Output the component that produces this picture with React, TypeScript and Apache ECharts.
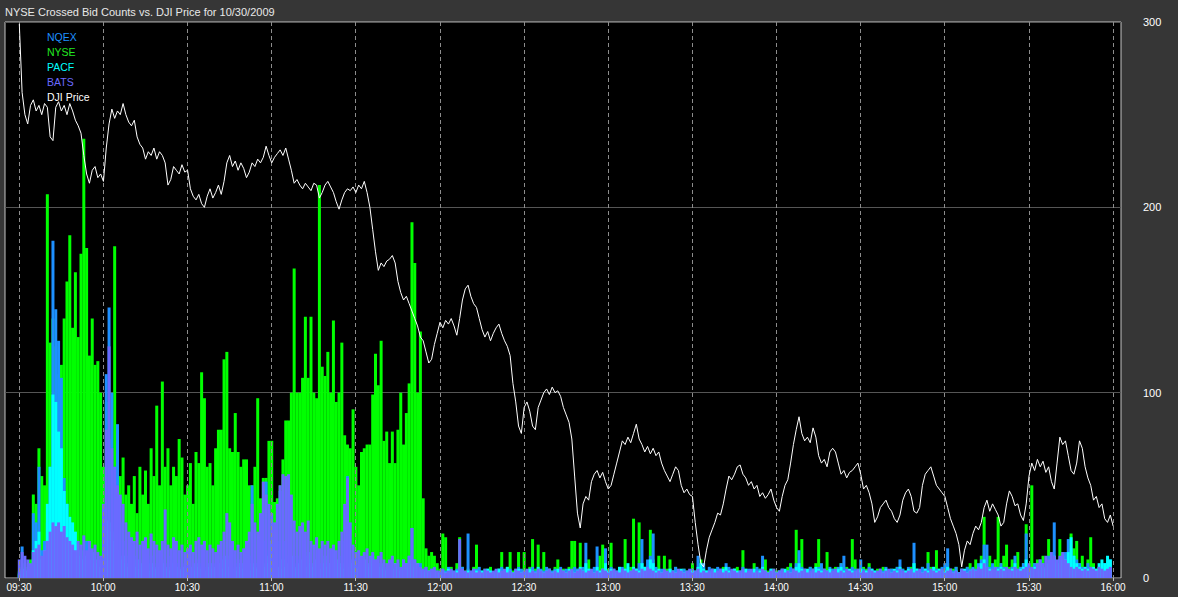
import React, { useEffect, useRef } from "react";
import * as echarts from "echarts";

const chartTitle = "NYSE Crossed Bid Counts vs. DJI Price for 10/30/2009";
const timeLabels = ["09:30", "10:00", "10:30", "11:00", "11:30", "12:00", "12:30", "13:00", "13:30", "14:00", "14:30", "15:00", "15:30", "16:00"];
const legendNames = ["NQEX", "NYSE", "PACF", "BATS", "DJI Price"];
const legendColors = ["#1e90ff", "#22e822", "#00ffff", "#6a6aff", "#ffffff"];

// per-minute values from 09:30 (index 0)
const nyse = [
  4, 6, 8, 6, 10, 45, 40, 70, 55, 50,
  207, 127, 140, 125, 110, 115, 140, 160, 185, 135,
  165, 130, 175, 237, 178, 120, 140, 115, 117, 100,
  60, 95, 75, 60, 179, 80, 55, 65, 45, 50,
  40, 55, 35, 60, 45, 58, 40, 70, 55, 93,
  50, 106, 60, 70, 50, 60, 55, 75, 65, 45,
  50, 62, 40, 68, 62, 111, 97, 60, 62, 50,
  70, 80, 80, 118, 122, 70, 68, 89, 68, 60,
  64, 64, 50, 50, 60, 97, 43, 54, 54, 74,
  74, 41, 43, 50, 64, 85, 85, 100, 167, 100,
  100, 108, 141, 108, 141, 100, 97, 212, 114, 109,
  122, 100, 139, 95, 100, 127, 77, 72, 70, 91,
  60, 50, 68, 70, 72, 72, 99, 121, 104, 128,
  74, 79, 62, 79, 62, 80, 100, 72, 89, 105,
  192, 170, 100, 133, 43, 16, 12, 14, 12, 8,
  5, 24, 22, 4, 6, 3, 8, 22, 6, 4,
  5, 3, 6, 18, 4, 3, 5, 4, 6, 3,
  4, 5, 14, 3, 6, 14, 4, 5, 14, 3,
  14, 4, 6, 21, 5, 18, 4, 14, 3, 5,
  4, 6, 10, 3, 5, 4, 6, 20, 20, 5,
  19, 5, 6, 10, 4, 3, 5, 12, 18, 4,
  5, 19, 4, 3, 6, 5, 21, 4, 6, 32,
  5, 30, 8, 6, 4, 26, 10, 5, 12, 4,
  12, 5, 10, 4, 6, 3, 4, 5, 3, 4,
  8, 4, 5, 10, 6, 4, 3, 5, 4, 3,
  4, 6, 5, 3, 4, 5, 6, 4, 15, 5,
  4, 3, 8, 4, 5, 6, 10, 4, 3, 5,
  4, 3, 5, 4, 6, 8, 5, 26, 6, 21,
  5, 4, 6, 5, 8, 21, 6, 5, 14, 4,
  5, 6, 4, 8, 5, 6, 4, 21, 10, 5,
  4, 6, 5, 8, 4, 3, 5, 4, 6, 3,
  4, 5, 3, 6, 4, 5, 3, 4, 6, 8,
  5, 4, 6, 5, 14, 6, 4, 15, 5, 3,
  6, 8, 4, 5, 6, 3, 5, 4, 6, 8,
  5, 10, 6, 12, 33, 8, 12, 6, 10, 33,
  8, 12, 18, 6, 10, 5, 14, 6, 8, 29,
  6, 50, 8, 10, 6, 12, 8, 21, 6, 10,
  8, 21, 14, 6, 10, 24, 16, 20, 8, 12,
  6, 10, 22, 8, 5, 6, 4, 5, 6, 8,
];

const nqex = [
  3, 17, 5, 4, 6, 35, 30, 60, 15, 20,
  30, 60, 182, 145, 128, 108, 54, 40, 30, 25,
  20, 15, 12, 10, 20, 15, 12, 10, 8, 10,
  30, 110, 146, 100, 60, 83, 30, 20, 15, 12,
  10, 12, 8, 10, 6, 8, 10, 12, 8, 6,
  8, 10, 6, 8, 12, 10, 8, 6, 5, 8,
  6, 5, 8, 6, 10, 8, 6, 5, 8, 6,
  8, 6, 10, 12, 8, 10, 6, 8, 10, 6,
  8, 10, 12, 50, 10, 8, 12, 20, 52, 15,
  10, 12, 20, 47, 15, 20, 12, 10, 8, 12,
  10, 8, 12, 10, 8, 6, 10, 8, 6, 10,
  8, 6, 10, 8, 6, 12, 20, 55, 10, 8,
  6, 8, 10, 6, 5, 8, 6, 10, 8, 6,
  5, 6, 8, 5, 6, 8, 5, 10, 8, 12,
  27, 10, 6, 8, 5, 6, 4, 5, 3, 4,
  3, 5, 4, 6, 3, 4, 5, 4, 6, 3,
  24, 4, 3, 5, 6, 4, 3, 5, 4, 3,
  4, 5, 6, 3, 4, 5, 3, 4, 6, 5,
  4, 3, 5, 6, 4, 3, 5, 4, 6, 3,
  4, 5, 3, 6, 4, 5, 3, 4, 6, 5,
  4, 6, 19, 5, 3, 6, 17, 4, 5, 16,
  4, 6, 5, 3, 4, 6, 5, 4, 3, 6,
  5, 8, 21, 6, 10, 12, 24, 6, 4, 5,
  4, 3, 5, 4, 6, 3, 4, 5, 3, 4,
  5, 4, 12, 6, 8, 4, 6, 5, 4, 6,
  5, 4, 8, 6, 4, 5, 3, 4, 6, 4,
  5, 3, 4, 6, 5, 12, 4, 3, 5, 4,
  3, 4, 5, 3, 4, 6, 5, 8, 15, 6,
  5, 4, 6, 5, 4, 6, 8, 5, 4, 6,
  5, 4, 6, 8, 12, 5, 4, 6, 5, 4,
  10, 5, 4, 6, 5, 4, 3, 5, 4, 6,
  4, 5, 3, 6, 10, 5, 4, 6, 5, 19,
  5, 4, 6, 5, 8, 4, 6, 5, 4, 6,
  8, 16, 5, 4, 6, 3, 5, 4, 6, 5,
  6, 5, 8, 10, 18, 18, 6, 8, 5, 6,
  8, 6, 5, 4, 6, 12, 5, 6, 8, 24,
  6, 5, 8, 6, 10, 8, 6, 12, 8, 30,
  8, 10, 12, 14, 21, 16, 12, 10, 8, 6,
  5, 8, 6, 5, 4, 6, 5, 8, 6, 10,
];

const pacf = [
  2, 5, 3, 4, 5, 15, 20, 25, 10, 15,
  40, 60, 99, 95, 79, 70, 47, 40, 33, 30,
  25, 12, 15, 10, 12, 10, 14, 8, 10, 6,
  20, 31, 30, 25, 20, 15, 10, 12, 8, 6,
  8, 6, 10, 5, 8, 6, 4, 8, 6, 5,
  6, 8, 5, 6, 4, 8, 6, 5, 4, 6,
  5, 6, 4, 8, 6, 5, 4, 6, 8, 5,
  6, 8, 5, 10, 12, 6, 5, 4, 6, 8,
  5, 6, 4, 8, 6, 5, 10, 6, 8, 12,
  20, 8, 6, 5, 10, 6, 8, 12, 6, 5,
  8, 10, 6, 14, 8, 6, 10, 5, 8, 12,
  6, 8, 15, 10, 6, 8, 5, 6, 8, 10,
  6, 5, 8, 10, 6, 8, 12, 5, 6, 8,
  5, 4, 6, 5, 8, 6, 4, 5, 6, 8,
  10, 6, 8, 5, 4, 3, 4, 3, 4, 3,
  3, 4, 3, 5, 4, 3, 4, 6, 4, 3,
  4, 3, 5, 4, 3, 4, 3, 5, 4, 3,
  4, 5, 3, 4, 6, 4, 3, 4, 5, 3,
  4, 3, 5, 4, 3, 6, 4, 3, 4, 5,
  3, 4, 5, 3, 4, 3, 5, 4, 3, 4,
  6, 4, 8, 5, 4, 3, 6, 4, 5, 8,
  4, 5, 3, 4, 6, 4, 5, 8, 4, 6,
  5, 4, 8, 6, 5, 10, 8, 4, 5, 3,
  4, 3, 5, 4, 3, 4, 5, 3, 4, 3,
  4, 3, 6, 8, 5, 4, 3, 4, 5, 3,
  4, 5, 6, 4, 3, 5, 4, 3, 4, 5,
  3, 4, 5, 3, 4, 6, 4, 3, 5, 4,
  3, 4, 3, 5, 4, 3, 4, 6, 8, 5,
  4, 5, 3, 4, 6, 5, 4, 3, 4, 5,
  3, 4, 5, 6, 4, 3, 5, 4, 3, 4,
  5, 3, 4, 3, 5, 4, 3, 4, 3, 5,
  4, 3, 5, 4, 6, 3, 4, 5, 4, 8,
  5, 4, 3, 5, 4, 3, 6, 4, 5, 3,
  4, 6, 5, 3, 4, 3, 4, 5, 3, 4,
  5, 4, 6, 8, 10, 6, 5, 4, 6, 5,
  6, 5, 4, 3, 5, 8, 4, 5, 6, 10,
  5, 4, 6, 5, 8, 6, 5, 8, 10, 12,
  8, 10, 12, 10, 14, 22, 12, 8, 6, 5,
  6, 5, 4, 6, 5, 8, 10, 8, 12, 10,
];

const bats = [
  10, 14, 12, 10, 8, 14, 16, 18, 12, 15,
  20, 25, 30, 28, 30, 25, 28, 22, 20, 18,
  15, 20, 18, 23, 15, 20, 16, 18, 14, 12,
  40, 80, 125, 70, 60, 50, 45, 40, 30, 25,
  22, 20, 25, 18, 20, 22, 16, 24, 20, 18,
  15, 20, 37, 18, 16, 22, 20, 15, 18, 14,
  16, 18, 14, 20, 22, 18, 20, 15, 18, 16,
  14, 18, 20, 25, 35, 30, 20, 15, 18, 14,
  16, 20, 25, 40, 30, 25, 35, 52, 45, 40,
  35, 30, 40, 50, 56, 55, 56, 45, 31, 25,
  28, 30, 25, 31, 20, 18, 22, 16, 20, 18,
  20, 16, 18, 15, 20, 25, 40, 54, 30, 18,
  14, 15, 12, 14, 16, 12, 14, 10, 12, 14,
  10, 8, 10, 12, 8, 10, 6, 10, 8, 12,
  27, 10, 8, 6, 5, 6, 4, 5, 6, 4,
  4, 5, 3, 4, 5, 4, 3, 21, 5, 4,
  3, 4, 5, 3, 4, 3, 5, 4, 3, 4,
  5, 3, 4, 5, 3, 4, 3, 5, 4, 3,
  4, 5, 3, 4, 3, 5, 4, 3, 4, 5,
  3, 4, 3, 5, 4, 3, 4, 5, 3, 4,
  5, 4, 3, 4, 5, 3, 4, 3, 5, 4,
  3, 4, 5, 4, 3, 5, 4, 3, 4, 5,
  4, 3, 5, 4, 6, 5, 4, 3, 4, 3,
  5, 4, 3, 4, 3, 5, 4, 3, 4, 5,
  3, 4, 5, 3, 4, 3, 4, 5, 3, 4,
  5, 3, 4, 3, 5, 4, 3, 4, 5, 3,
  4, 5, 3, 4, 3, 5, 4, 3, 4, 5,
  3, 4, 5, 3, 4, 3, 5, 4, 3, 4,
  5, 3, 4, 5, 3, 4, 3, 5, 4, 3,
  4, 5, 3, 4, 3, 5, 4, 3, 4, 5,
  3, 4, 3, 5, 4, 3, 4, 5, 3, 4,
  5, 3, 4, 3, 5, 4, 3, 4, 5, 3,
  4, 5, 3, 4, 3, 5, 4, 3, 4, 5,
  3, 4, 5, 3, 4, 3, 5, 4, 3, 4,
  5, 4, 6, 5, 8, 6, 4, 5, 6, 4,
  5, 4, 6, 5, 4, 6, 5, 4, 5, 6,
  8, 6, 5, 8, 10, 8, 12, 10, 14, 12,
  10, 12, 14, 10, 8, 6, 5, 6, 5, 4,
  5, 4, 6, 5, 4, 6, 5, 4, 5, 6,
];

// DJI price scaled to the 0-300 axis, per minute from 09:30 to 16:00
const djiPrice = [
  299, 262, 250, 245, 255, 258, 252, 255, 250, 256,
  254, 238, 236, 254, 257, 252, 255, 250, 256, 252,
  247, 244, 240, 228, 218, 213, 220, 222, 216, 218,
  214, 232, 245, 253, 248, 252, 250, 256, 250, 246,
  244, 247, 238, 234, 232, 226, 230, 228, 232, 226,
  230, 228, 224, 212, 215, 222, 220, 218, 223, 219,
  220, 210, 206, 204, 207, 202, 200, 206, 210, 205,
  208, 212, 207, 214, 224, 228, 222, 225, 220, 224,
  221, 216, 219, 224, 222, 226, 224, 227, 233, 228,
  224, 227, 229, 231, 228, 232, 226, 220, 213, 215,
  212, 210, 213, 211, 209, 213, 212, 205, 208, 212,
  214, 211, 208, 203, 199, 204, 208, 210, 209, 211,
  208, 212, 210, 214, 208, 200, 188, 176, 166, 170,
  168, 171, 172, 174, 170, 160, 154, 150, 152, 148,
  144, 140, 136, 130, 128, 122, 116, 118, 126, 132,
  138, 135, 139, 137, 140, 136, 131, 140, 150, 156,
  158, 152, 148, 146, 140, 134, 130, 133, 128, 132,
  135, 137, 132, 128, 125, 120, 105, 95, 82, 78,
  92, 95, 90, 82, 80, 92, 96, 100, 102, 99,
  103, 100, 101, 98, 92, 88, 84, 75, 55, 35,
  27, 40, 44, 42, 52, 56, 58, 54, 57, 52,
  48, 50, 56, 62, 68, 74, 72, 76, 73, 78,
  83, 75, 72, 68, 71, 67, 70, 66, 68, 62,
  58, 55, 52, 56, 60, 58, 50, 46, 48, 45,
  44, 30, 18, 8, 6, 15, 22, 26, 30, 35,
  34, 40, 48, 55, 53, 56, 60, 61, 56, 54,
  50, 52, 48, 50, 44, 46, 43, 45, 48, 42,
  38, 36, 44, 50, 53, 62, 72, 80, 87, 78,
  74, 76, 73, 81, 76, 66, 62, 64, 60, 68,
  70, 68, 62, 56, 58, 54, 57, 58, 60, 62,
  56, 48, 50, 46, 40, 30, 33, 38, 40, 42,
  38, 36, 32, 30, 34, 42, 46, 48, 44, 36,
  35, 38, 50, 56, 58, 60, 55, 50, 48, 46,
  44, 38, 32, 28, 24, 18, 6, 15, 20, 18,
  24, 28, 26, 30, 38, 42, 36, 40, 37, 34,
  28, 30, 40, 47, 44, 39, 40, 34, 31, 40,
  55, 62, 58, 64, 60, 63, 57, 60, 52, 48,
  62, 76, 72, 74, 66, 58, 56, 62, 74, 70,
  60, 54, 50, 42, 44, 38, 40, 32, 30, 34,
  28,
];

const FONT = '"Liberation Sans", Arial, sans-serif';

export default function App() {
  const ref = useRef<HTMLDivElement>(null);

  useEffect(() => {
    if (!ref.current) return;
    const chart = echarts.init(ref.current, null, { renderer: "svg" });
    const xy = (arr: number[]) => arr.map((v, i) => [i, v]);

    const barSeries = [
      { name: "NYSE", data: nyse, color: "#00ff00" },
      { name: "NQEX", data: nqex, color: "#1e90ff" },
      { name: "PACF", data: pacf, color: "#00ffff" },
      { name: "BATS", data: bats, color: "#6a6aff" },
    ].map((s) => ({
      name: s.name,
      type: "bar",
      xAxisIndex: 0,
      yAxisIndex: 0,
      data: xy(s.data),
      barWidth: 3,
      barGap: "-100%",
      itemStyle: { color: s.color },
      silent: true,
      z: 2,
    }));

    const legendGraphics = legendNames.map((name, i) => ({
      type: "text",
      x: 47,
      y: 37 + i * 15,
      z: 10,
      style: {
        text: name,
        fill: legendColors[i],
        font: `10.5px ${FONT}`,
        verticalAlign: "middle",
        align: "left",
      },
    }));

    chart.setOption({
      animation: false,
      backgroundColor: "#363636",
      title: {
        text: chartTitle,
        left: 5,
        top: 6,
        padding: 0,
        textStyle: { color: "#e8e8e8", fontSize: 11, fontWeight: "normal", fontFamily: FONT },
      },
      grid: [
        {
          left: 5,
          right: 57,
          top: 22,
          bottom: 19,
          show: true,
          backgroundColor: "#000000",
          borderColor: "#c4c4c4",
          borderWidth: 1,
        },
        {
          left: 19,
          right: 65,
          top: 22,
          bottom: 19,
          show: false,
        },
      ],
      xAxis: [
        {
          type: "value",
          gridIndex: 0,
          min: -5.1,
          max: 392.8,
          show: false,
          splitLine: { show: false },
        },
        {
          type: "category",
          gridIndex: 1,
          data: timeLabels,
          boundaryGap: false,
          z: 3,
          axisLine: { show: false },
          axisTick: { show: true, length: 3, alignWithLabel: true, lineStyle: { color: "#bbbbbb" } },
          axisLabel: { interval: 0, color: "#ffffff", fontSize: 10, fontFamily: FONT, margin: 4 },
          splitLine: { show: true, interval: 0, lineStyle: { color: "#8c8c8c", type: [4, 3], width: 1 } },
        },
      ],
      yAxis: [
        {
          type: "value",
          gridIndex: 0,
          position: "right",
          min: 0,
          max: 300,
          interval: 100,
          axisLine: { show: false },
          axisTick: { show: false },
          axisLabel: { color: "#ffffff", fontSize: 11, fontFamily: FONT, margin: 22 },
          splitLine: { show: true, lineStyle: { color: "#555555", width: 1 } },
        },
        {
          type: "value",
          gridIndex: 1,
          min: 0,
          max: 300,
          show: false,
          splitLine: { show: false },
        },
      ],
      series: [
        ...barSeries,
        {
          name: "DJI Price",
          type: "line",
          xAxisIndex: 0,
          yAxisIndex: 0,
          data: xy(djiPrice),
          showSymbol: false,
          symbol: "none",
          lineStyle: { color: "#ffffff", width: 1 },
          silent: true,
          z: 4,
        },
      ],
      graphic: legendGraphics,
    });

    return () => chart.dispose();
  }, []);

  return (
    <div
      ref={ref}
      style={{ position: "absolute", left: 0, top: 0, width: 1178, height: 597, background: "#363636" }}
    />
  );
}
